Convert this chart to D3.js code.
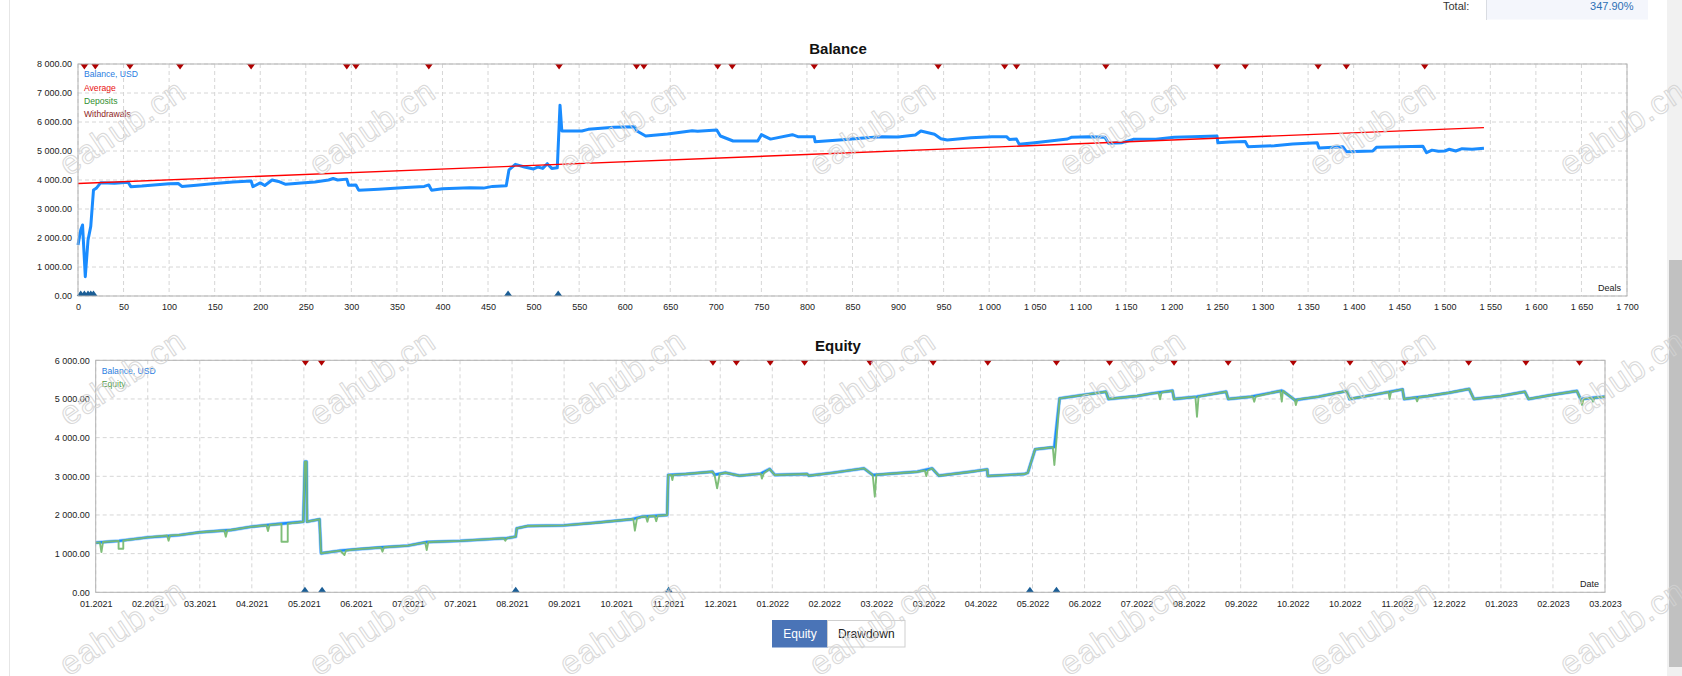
<!DOCTYPE html>
<html>
<head>
<meta charset="utf-8">
<script src="https://cdn.jsdelivr.net/npm/d3@7"></script>
<style>
  body { margin: 0; background: #fff; overflow: hidden; }
  svg { display: block; }
  text { font-family: "Liberation Sans", Arial, sans-serif; }
</style>
</head>
<body>
<svg id="chart" width="1682" height="676"></svg>
<script>
/*global d3*/

//// data ////

// balance chart, x = deal number
const balDeals = [0, 3, 5, 8, 11, 14, 17, 20, 25, 40, 55, 58, 70, 100, 110, 114, 130, 150, 170, 190,
  192, 200, 205, 213, 220, 228, 245, 260, 275, 280, 285, 295, 297, 305, 308, 330, 360, 380, 385, 388,
  400, 430, 445, 455, 470, 473, 480, 490, 500, 505, 510, 515, 520, 526, 529, 531, 553, 560, 588, 611,
  613, 623, 647, 674, 680, 701, 705, 719, 746, 750, 760, 784, 790, 808, 809, 843, 862, 882, 900, 919,
  925, 940, 947, 954, 980, 1003, 1019, 1022, 1030, 1033, 1050, 1086, 1090, 1110, 1127, 1131, 1146, 1158, 1183, 1203,
  1223, 1250, 1251, 1264, 1281, 1284, 1313, 1333, 1360, 1362, 1388, 1392, 1421, 1425, 1476, 1480, 1486, 1493, 1500, 1505,
  1512, 1519, 1530, 1543];
const balValues = [1760, 2276, 2448, 667, 1931, 2400, 3655, 3713, 3908, 3890, 3920, 3770, 3790, 3870, 3880, 3780, 3820, 3880, 3930, 3965,
  3770, 3900, 3810, 4000, 3950, 3850, 3900, 3930, 4000, 4050, 4000, 4030, 3820, 3830, 3650, 3680, 3740, 3780, 3830, 3650,
  3700, 3730, 3720, 3780, 3800, 4350, 4540, 4450, 4380, 4450, 4400, 4563, 4400, 4420, 6580, 5690, 5690, 5747, 5816, 5840,
  5701, 5517, 5586, 5700, 5680, 5724, 5517, 5345, 5345, 5563, 5410, 5563, 5494, 5494, 5322, 5400, 5450, 5494, 5480, 5552,
  5690, 5575, 5425, 5379, 5460, 5494, 5494, 5400, 5410, 5230, 5287, 5414, 5471, 5494, 5471, 5264, 5287, 5402, 5402, 5471,
  5494, 5517, 5287, 5310, 5330, 5149, 5180, 5241, 5287, 5103, 5150, 4977, 5000, 5126, 5160, 4943, 5030, 4990, 5000, 5060,
  5000, 5080, 5060, 5092];
const avgDeals = [0, 1543];
const avgValues = [3880, 5805];
const balWithdrawDeals = [7, 19, 57, 112, 190, 295, 305, 385, 528, 613, 621, 702, 718, 808, 944, 1017, 1030, 1128,
  1250, 1281, 1361, 1392, 1478];
const balDepositDeals = [3, 7, 11, 14, 17, 472, 527];
const balLegend = ["Balance, USD", "Average", "Deposits", "Withdrawals"];

// equity chart, x = position on the date axis (one unit per tick label)
const dateLabels = ["01.2021", "02.2021", "03.2021", "04.2021", "05.2021", "06.2021", "07.2021", "07.2021",
  "08.2021", "09.2021", "10.2021", "11.2021", "12.2021", "01.2022", "02.2022", "03.2022", "03.2022", "04.2022",
  "05.2022", "06.2022", "07.2022", "08.2022", "09.2022", "10.2022", "10.2022", "11.2022", "12.2022", "01.2023",
  "02.2023", "03.2023"];
const eqBalance = [[0, 1283], [0.45, 1330], [1.0, 1420], [1.6, 1480], [2.0, 1552], [2.6, 1611], [3.0, 1697],
  [3.5, 1766], [3.99, 1826], [4.02, 3378], [4.05, 3378], [4.06, 1826], [4.30, 1888], [4.33, 1009], [4.7, 1077],
  [5.0, 1112], [5.5, 1164], [6.0, 1206], [6.36, 1300], [7.0, 1330], [7.9, 1400], [8.07, 1439], [8.09, 1655],
  [8.3, 1715], [9.0, 1730], [9.61, 1800], [10.29, 1888], [10.5, 1955], [10.98, 1999], [11.0, 3033], [11.34, 3059],
  [11.85, 3119], [11.89, 3040], [12.1, 3093], [12.37, 3015], [12.78, 3070], [12.95, 3188], [13.05, 3033],
  [13.67, 3059], [13.7, 3015], [14.15, 3090], [14.76, 3206], [14.93, 3033], [15.79, 3119], [16.07, 3206],
  [16.2, 3015], [16.82, 3119], [17.13, 3180], [17.14, 3007], [17.85, 3059], [17.91, 3093], [18.05, 3698],
  [18.39, 3750], [18.42, 3760], [18.52, 5016], [19.41, 5188], [19.46, 4999], [20.01, 5076], [20.3, 5146],
  [20.69, 5213], [20.72, 4999], [21.16, 5059], [21.72, 5188], [21.76, 4999], [22.2, 5059], [22.79, 5213],
  [22.83, 5188], [23.04, 4973], [23.5, 5059], [24.04, 5206], [24.09, 4999], [24.6, 5120], [25.11, 5249],
  [25.14, 4999], [25.6, 5076], [26.0, 5160], [26.39, 5258], [26.48, 4999], [27.0, 5076], [27.46, 5188],
  [27.53, 4999], [28.0, 5110], [28.46, 5206], [28.53, 4999], [29.0, 5059]];
const eqEquity = [[0, 1283], [0.08, 1290], [0.11, 1040], [0.14, 1300], [0.44, 1330], [0.44, 1128], [0.53, 1128],
  [0.53, 1340], [1.0, 1420], [1.37, 1470], [1.40, 1335], [1.43, 1472], [1.6, 1480], [2.0, 1552], [2.47, 1600],
  [2.50, 1439], [2.53, 1605], [2.6, 1611], [3.0, 1697], [3.28, 1735], [3.31, 1585], [3.34, 1740], [3.57, 1766],
  [3.57, 1309], [3.69, 1309], [3.69, 1775], [3.99, 1826], [4.02, 3378], [4.05, 3378], [4.06, 1826], [4.30, 1888],
  [4.33, 1009], [4.7, 1077], [4.78, 965], [4.81, 1080], [5.0, 1112], [5.48, 1160], [5.51, 1050], [5.54, 1165],
  [6.0, 1206], [6.33, 1290], [6.36, 1094], [6.39, 1300], [7.0, 1330], [7.84, 1398], [7.87, 1335], [7.9, 1400],
  [8.07, 1439], [8.09, 1655], [8.3, 1715], [9.0, 1730], [9.61, 1800], [10.29, 1888], [10.33, 1895], [10.36, 1593],
  [10.40, 1905], [10.5, 1955], [10.57, 1960], [10.6, 1826], [10.63, 1965], [10.74, 1975], [10.77, 1840],
  [10.8, 1980], [10.98, 1999], [11.0, 3033], [11.06, 3036], [11.08, 2903], [11.1, 3038], [11.34, 3059],
  [11.85, 3119], [11.89, 3040], [11.94, 2690], [11.99, 3060], [12.1, 3093], [12.37, 3015], [12.78, 3070],
  [12.80, 2940], [12.84, 3080], [12.95, 3188], [13.05, 3033], [13.67, 3059], [13.7, 3015], [14.15, 3090],
  [14.76, 3206], [14.93, 3033], [14.97, 2473], [15.0, 3040], [15.79, 3119], [15.93, 3150], [15.96, 3007],
  [15.99, 3155], [16.07, 3206], [16.2, 3015], [16.82, 3119], [17.13, 3180], [17.14, 3007], [17.85, 3059],
  [17.91, 3093], [18.05, 3698], [18.39, 3750], [18.42, 3292], [18.45, 3760], [18.52, 5016], [19.41, 5188],
  [19.46, 4999], [20.01, 5076], [20.3, 5146], [20.42, 5165], [20.45, 4990], [20.48, 5170], [20.69, 5213],
  [20.72, 4999], [21.13, 5055], [21.16, 4541], [21.19, 5060], [21.72, 5188], [21.76, 4999], [22.2, 5059],
  [22.23, 5062], [22.26, 4930], [22.29, 5065], [22.76, 5210], [22.79, 4930], [22.81, 5210], [22.83, 5188],
  [23.04, 4973], [23.06, 4844], [23.09, 4990], [23.5, 5059], [24.04, 5206], [24.09, 4999], [24.6, 5120],
  [24.84, 5180], [24.86, 5000], [24.89, 5185], [25.11, 5249], [25.14, 4999], [25.36, 5040], [25.39, 4940],
  [25.42, 5045], [25.6, 5076], [26.0, 5160], [26.39, 5258], [26.48, 4999], [27.0, 5076], [27.46, 5188],
  [27.53, 4999], [28.0, 5110], [28.46, 5206], [28.53, 4999], [28.56, 4844], [28.59, 5010], [28.74, 5030],
  [28.77, 4930], [28.8, 5035], [29.0, 5059]];
const eqWithdrawT = [4.03, 4.34, 11.86, 12.31, 12.96, 13.62, 14.88, 16.09, 17.14, 18.46, 19.48, 20.72, 21.76,
  23.01, 24.10, 25.15, 26.38, 27.48, 28.51];
const eqDepositT = [4.02, 4.35, 8.07, 11.01, 17.95, 18.46];
const eqLegend = ["Balance, USD", "Equity"];

const totalLabel = "Total:";
const totalValue = "347.90%";
const tabs = ["Equity", "Drawdown"];

//// page ////

const svg = d3.select("#chart");
const spaced = f => v => f(v).replace(/,/g, " "); // "8 000.00" style grouping

svg.append("line") // page frame on the left
  .attr("x1", 9.5).attr("x2", 9.5).attr("y1", 0).attr("y2", 676)
  .attr("stroke", "#e6e6e6");

// the bit of the summary table that is still visible
svg.append("rect").attr("x", 1486).attr("y", -1).attr("width", 162).attr("height", 20.5).attr("fill", "#f4f6fc");
svg.append("line").attr("x1", 1486.5).attr("x2", 1486.5).attr("y1", 0).attr("y2", 20).attr("stroke", "#d9dce2");
svg.append("text").attr("x", 1443).attr("y", 10).attr("font-size", 11).attr("fill", "#333").text(totalLabel);
svg.append("text").attr("x", 1633.5).attr("y", 10).attr("font-size", 11).attr("fill", "#2c6fb5")
  .attr("text-anchor", "end").text(totalValue);

//// one chart panel: frame, grid, axes labels ////

function panel(opt) {
  const g = svg.append("g");
  const x = opt.x, y = opt.y;
  const [x0, x1] = x.range(), [y1, y0] = y.range();

  g.append("text")
    .attr("x", 838).attr("y", opt.titleY)
    .attr("text-anchor", "middle").attr("font-size", 15).attr("font-weight", "bold").attr("fill", "#111")
    .text(opt.title);

  const grid = g.append("g").attr("stroke", "#d6d6d6").attr("stroke-dasharray", "4,3");
  grid.selectAll(".gy").data(opt.yTicks).enter().append("line")
    .attr("x1", x0).attr("x2", x1).attr("y1", d => y(d)).attr("y2", d => y(d));
  grid.selectAll(".gx").data(opt.xTicks).enter().append("line")
    .attr("x1", d => x(d)).attr("x2", d => x(d)).attr("y1", y0).attr("y2", y1);

  const yAxis = d3.axisLeft(y).tickValues(opt.yTicks).tickFormat(spaced(d3.format(",.2f")))
    .tickSize(0).tickPadding(6);
  const xAxis = d3.axisBottom(x).tickValues(opt.xTicks).tickFormat(opt.xFormat)
    .tickSize(0).tickPadding(8);

  g.append("g").attr("transform", `translate(${x0},0)`).call(yAxis)
    .call(a => a.select(".domain").remove());
  g.append("g").attr("transform", `translate(0,${y1})`).call(xAxis)
    .call(a => a.select(".domain").remove());
  g.selectAll(".tick text").attr("font-family", "Liberation Sans, Arial, sans-serif")
    .attr("font-size", 9).attr("fill", "#222");

  g.append("text")
    .attr("x", x1 - 6).attr("y", y1 - 5)
    .attr("text-anchor", "end").attr("font-size", 9).attr("fill", "#222")
    .text(opt.corner);

  // legend, top left inside the plot
  g.selectAll(".legend").data(opt.legend).enter().append("text")
    .attr("x", x0 + 6).attr("y", (d, i) => y0 + 13.3 + i * 13.3)
    .attr("font-size", 8.6)
    .attr("fill", (d, i) => opt.legendColors[i])
    .text(d => d);

  return g;
}

function markers(g, xs, x, y, kind) {
  const top = y.range()[1], bottom = y.range()[0];
  g.selectAll(".m-" + kind).data(xs).enter().append("path")
    .attr("d", d => kind === "out"
      ? `M${x(d) - 4},${top} L${x(d) + 4},${top} L${x(d)},${top + 5.5} Z`
      : `M${x(d) - 4},${bottom} L${x(d) + 4},${bottom} L${x(d)},${bottom - 5.5} Z`)
    .attr("fill", kind === "out" ? "#b00000" : "#1b5e96");
}

//// balance chart ////

const bx = d3.scaleLinear().domain([0, 1700]).range([78, 1627]);
const by = d3.scaleLinear().domain([0, 8000]).range([296, 64]);

const bal = panel({
  x: bx, y: by, title: "Balance", titleY: 54,
  xTicks: d3.range(0, 1701, 50), yTicks: d3.range(0, 8001, 1000),
  xFormat: spaced(d3.format(",")), corner: "Deals",
  legend: balLegend, legendColors: ["#2a7de1", "#e81010", "#2f8f2f", "#8e1c1c"]
});

const balLine = d3.line().x((d, i) => bx(balDeals[i])).y(d => by(d));
bal.append("path").datum(balValues)
  .attr("d", balLine).attr("fill", "none")
  .attr("stroke", "#1a8cff").attr("stroke-width", 3).attr("stroke-linejoin", "round");

const avgLine = d3.line().x((d, i) => bx(avgDeals[i])).y(d => by(d));
bal.append("path").datum(avgValues)
  .attr("d", avgLine).attr("fill", "none")
  .attr("stroke", "#ff0000").attr("stroke-width", 1.4);

markers(bal, balWithdrawDeals, bx, by, "out");
markers(bal, balDepositDeals, bx, by, "in");

bal.append("rect").attr("x", 78).attr("y", 64).attr("width", 1627 - 78).attr("height", 296 - 64)
  .attr("fill", "none").attr("stroke", "#b3b3b3");

//// equity chart ////

const ex = d3.scaleLinear().domain([0, dateLabels.length - 1]).range([95.7, 1605]);
const ey = d3.scaleLinear().domain([0, 6000]).range([592.3, 360.3]);

const eq = panel({
  x: ex, y: ey, title: "Equity", titleY: 351,
  xTicks: d3.range(dateLabels.length), yTicks: d3.range(0, 6001, 1000),
  xFormat: i => dateLabels[i], corner: "Date",
  legend: eqLegend, legendColors: ["#2a7de1", "#4f9a45"]
});

const eqLine = d3.line().x(d => ex(d[0])).y(d => ey(d[1]));
eq.append("path").datum(eqBalance)
  .attr("d", eqLine).attr("fill", "none")
  .attr("stroke", "#a8d4ff").attr("stroke-width", 3.8).attr("stroke-linejoin", "round");
eq.append("path").datum(eqBalance)
  .attr("d", eqLine).attr("fill", "none")
  .attr("stroke", "#1a8cff").attr("stroke-width", 2.4).attr("stroke-linejoin", "round");
eq.append("path").datum(eqEquity)
  .attr("d", eqLine).attr("fill", "none")
  .attr("stroke", "#78bb72").attr("stroke-width", 1.9).attr("stroke-linejoin", "round")
  .attr("opacity", 0.95);

markers(eq, eqWithdrawT, ex, ey, "out");
markers(eq, eqDepositT, ex, ey, "in");

eq.append("rect").attr("x", 95.7).attr("y", 360.3).attr("width", 1605 - 95.7).attr("height", 592.3 - 360.3)
  .attr("fill", "none").attr("stroke", "#b3b3b3");

//// tabs under the charts ////

const tabG = svg.append("g");
const tabX = [772, 827], tabW = [55, 77.5];
tabs.forEach((t, i) => {
  tabG.append("rect")
    .attr("x", tabX[i] + 0.5).attr("y", 620.5).attr("width", tabW[i]).attr("height", 26.5)
    .attr("fill", i === 0 ? "#4a74b7" : "#fff")
    .attr("stroke", i === 0 ? "#4a74b7" : "#cfcfcf");
  tabG.append("text")
    .attr("x", tabX[i] + tabW[i] / 2 + 0.5).attr("y", 638.3)
    .attr("text-anchor", "middle").attr("font-size", 12)
    .attr("fill", i === 0 ? "#fff" : "#222")
    .text(t);
});

//// scrollbar on the right ////

svg.append("rect").attr("x", 1667).attr("y", 0).attr("width", 15).attr("height", 676).attr("fill", "#f1f1f1");
svg.append("rect").attr("x", 1669).attr("y", 260).attr("width", 13).attr("height", 407).attr("fill", "#c1c1c1");

//// watermark of the source site ////

const wmCols = d3.range(122, 1700, 250);
const wmRows = [127, 377, 627];
const wm = svg.append("g").attr("pointer-events", "none");
wmRows.forEach(ry => wmCols.forEach(cx => {
  wm.append("text")
    .attr("transform", `translate(${cx},${ry}) rotate(-34)`)
    .attr("text-anchor", "middle").attr("dy", "0.35em")
    .attr("font-family", "DejaVu Sans, sans-serif").attr("font-size", 33)
    .attr("letter-spacing", 1)
    .attr("fill", "none").attr("stroke", "#d2d2d2").attr("stroke-width", 1)
    .attr("opacity", 0.85)
    .text("eahub.cn");
}));
</script>
</body>
</html>
